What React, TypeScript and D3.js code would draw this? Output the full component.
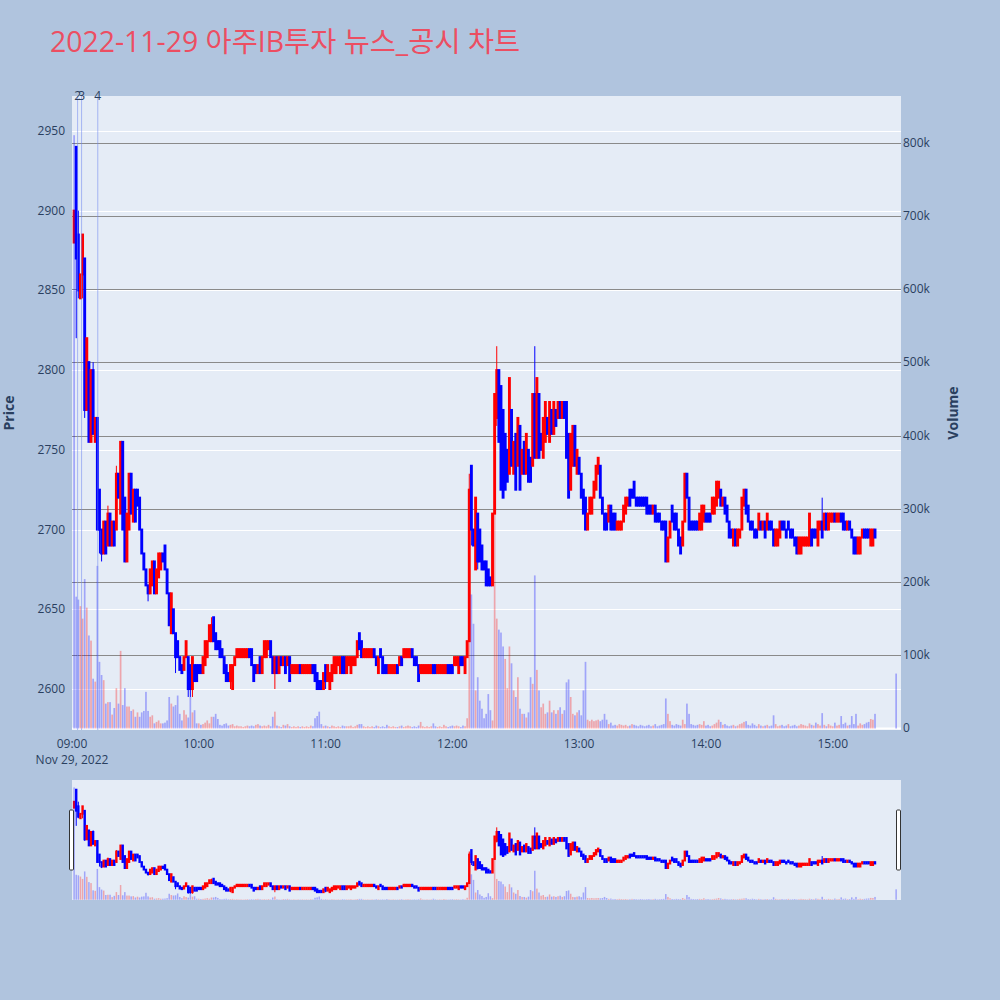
import { useRef, useEffect } from "react";
import * as d3 from "d3";

// 1-minute candles, 09:01 .. 15:20, then the 15:30 closing auction
const opens = [
  2880, 2940, 2885, 2845, 2860, 2870, 2775, 2805, 2755, 2800,
  2755, 2770, 2725, 2700, 2685, 2705, 2690, 2710, 2690, 2705,
  2700, 2735, 2710, 2755, 2720, 2680, 2700, 2735, 2705, 2725,
  2725, 2720, 2700, 2685, 2675, 2665, 2660, 2665, 2680, 2660,
  2670, 2675, 2685, 2690, 2675, 2660, 2635, 2650, 2635, 2630,
  2620, 2615, 2612, 2620, 2620, 2615, 2600, 2615, 2615, 2615,
  2615, 2610, 2615, 2620, 2630, 2630, 2645, 2635, 2630, 2630,
  2625, 2620, 2615, 2610, 2605, 2600, 2615, 2620, 2620, 2620,
  2620, 2620, 2620, 2625, 2625, 2615, 2615, 2610, 2620, 2610,
  2620, 2620, 2625, 2630, 2620, 2610, 2620, 2610, 2620, 2615,
  2620, 2615, 2620, 2610, 2610, 2610, 2610, 2615, 2610, 2610,
  2610, 2610, 2610, 2615, 2615, 2610, 2605, 2605, 2600, 2615,
  2605, 2600, 2605, 2610, 2610, 2615, 2610, 2620, 2620, 2610,
  2615, 2610, 2615, 2615, 2620, 2635, 2630, 2620, 2620, 2620,
  2620, 2620, 2625, 2620, 2610, 2625, 2620, 2615, 2615, 2610,
  2610, 2610, 2610, 2615, 2615, 2620, 2620, 2620, 2620, 2620,
  2625, 2620, 2620, 2615, 2610, 2610, 2610, 2610, 2610, 2610,
  2615, 2615, 2610, 2610, 2610, 2610, 2610, 2615, 2615, 2615,
  2615, 2615, 2610, 2620, 2620, 2610, 2620, 2630, 2740, 2700,
  2675, 2710, 2700, 2690, 2680, 2680, 2675, 2670, 2665, 2710,
  2770, 2800, 2790, 2775, 2760, 2750, 2735, 2775, 2735, 2760,
  2740, 2765, 2735, 2755, 2735, 2750, 2745, 2740, 2785, 2745,
  2785, 2760, 2745, 2755, 2770, 2755, 2775, 2760, 2775, 2770,
  2780, 2770, 2780, 2780, 2760, 2725, 2740, 2765, 2735, 2745,
  2735, 2725, 2720, 2700, 2710, 2710, 2720, 2725, 2735, 2740,
  2720, 2710, 2710, 2705, 2715, 2710, 2710, 2700, 2700, 2700,
  2705, 2710, 2715, 2725, 2725, 2730, 2720, 2720, 2720, 2720,
  2720, 2720, 2715, 2715, 2710, 2715, 2710, 2710, 2705, 2705,
  2705, 2680, 2695, 2715, 2710, 2710, 2700, 2695, 2690, 2705,
  2735, 2720, 2705, 2705, 2705, 2705, 2700, 2700, 2705, 2710,
  2710, 2710, 2710, 2710, 2715, 2720, 2725, 2715, 2720, 2715,
  2705, 2700, 2690, 2700, 2690, 2695, 2700, 2715, 2725, 2715,
  2705, 2705, 2700, 2700, 2700, 2705, 2700, 2705, 2700, 2705,
  2705, 2700, 2690, 2690, 2695, 2705, 2705, 2700, 2705, 2700,
  2700, 2695, 2695, 2685, 2685, 2690, 2690, 2690, 2690, 2700,
  2700, 2700, 2690, 2700, 2705, 2700, 2710, 2700, 2705, 2705,
  2710, 2705, 2705, 2710, 2710, 2705, 2700, 2705, 2700, 2695,
  2695, 2685, 2685, 2695, 2700, 2700, 2700, 2690, 2690, 2700,
  2695,
];

const closes = [
  2900, 2870, 2850, 2860, 2885, 2775, 2820, 2755, 2800, 2760,
  2770, 2700, 2700, 2685, 2705, 2685, 2710, 2690, 2705, 2690,
  2735, 2720, 2755, 2700, 2680, 2710, 2735, 2710, 2725, 2705,
  2715, 2700, 2685, 2675, 2665, 2660, 2675, 2680, 2660, 2675,
  2685, 2685, 2680, 2675, 2660, 2640, 2660, 2635, 2620, 2620,
  2612, 2610, 2620, 2630, 2600, 2600, 2620, 2605, 2605, 2610,
  2610, 2620, 2630, 2630, 2640, 2640, 2630, 2625, 2625, 2620,
  2620, 2610, 2605, 2605, 2615, 2615, 2620, 2625, 2625, 2625,
  2625, 2625, 2625, 2620, 2615, 2605, 2610, 2615, 2610, 2620,
  2630, 2630, 2630, 2620, 2610, 2620, 2610, 2620, 2615, 2620,
  2610, 2620, 2605, 2615, 2615, 2615, 2615, 2610, 2615, 2615,
  2615, 2615, 2615, 2610, 2605, 2600, 2600, 2600, 2610, 2605,
  2615, 2610, 2615, 2620, 2620, 2620, 2620, 2610, 2610, 2620,
  2620, 2620, 2620, 2620, 2630, 2625, 2620, 2625, 2625, 2625,
  2625, 2625, 2620, 2615, 2620, 2620, 2610, 2610, 2610, 2615,
  2615, 2615, 2615, 2610, 2620, 2615, 2625, 2625, 2625, 2625,
  2620, 2615, 2615, 2605, 2615, 2615, 2615, 2615, 2615, 2615,
  2610, 2610, 2615, 2615, 2615, 2615, 2615, 2610, 2610, 2610,
  2620, 2620, 2620, 2615, 2615, 2620, 2630, 2725, 2700, 2690,
  2720, 2680, 2680, 2675, 2675, 2665, 2665, 2665, 2710, 2785,
  2800, 2755, 2725, 2720, 2725, 2730, 2795, 2740, 2755, 2725,
  2770, 2725, 2750, 2735, 2760, 2730, 2730, 2785, 2745, 2795,
  2745, 2750, 2770, 2780, 2760, 2780, 2760, 2780, 2765, 2780,
  2770, 2780, 2770, 2745, 2720, 2760, 2765, 2740, 2750, 2735,
  2720, 2710, 2700, 2710, 2720, 2720, 2730, 2740, 2745, 2720,
  2710, 2700, 2700, 2715, 2700, 2700, 2700, 2705, 2705, 2705,
  2715, 2720, 2720, 2715, 2720, 2720, 2715, 2715, 2715, 2715,
  2715, 2710, 2710, 2710, 2715, 2705, 2705, 2705, 2700, 2700,
  2680, 2695, 2705, 2705, 2700, 2700, 2690, 2685, 2705, 2735,
  2720, 2700, 2700, 2700, 2700, 2700, 2710, 2715, 2715, 2705,
  2705, 2705, 2720, 2720, 2730, 2730, 2715, 2720, 2710, 2705,
  2695, 2695, 2700, 2690, 2700, 2700, 2720, 2725, 2710, 2705,
  2700, 2700, 2695, 2695, 2710, 2700, 2705, 2695, 2710, 2700,
  2700, 2690, 2700, 2700, 2705, 2700, 2700, 2695, 2700, 2695,
  2695, 2690, 2685, 2695, 2695, 2695, 2695, 2695, 2710, 2690,
  2695, 2695, 2705, 2705, 2695, 2710, 2700, 2710, 2710, 2710,
  2705, 2710, 2710, 2705, 2700, 2700, 2705, 2700, 2695, 2685,
  2685, 2695, 2695, 2700, 2695, 2695, 2695, 2700, 2700, 2695,
  2695,
];

// candles whose high/low reach past the body: index -> [high, low]
const wicks: Record<number, [number, number]> = {
  1: [2940, 2820], 2: [2900, 2845], 4: [2885, 2845], 5: [2870, 2770],
  9: [2805, 2760], 12: [2725, 2685], 13: [2700, 2680], 16: [2715, 2690],
  20: [2740, 2700], 35: [2665, 2655], 48: [2635, 2610], 54: [2620, 2595],
  55: [2615, 2595], 56: [2620, 2595], 65: [2645, 2630], 66: [2645, 2630],
  74: [2615, 2600], 95: [2620, 2600], 119: [2615, 2600], 121: [2610, 2600],
  135: [2635, 2625], 187: [2735, 2630], 188: [2740, 2690], 190: [2720, 2675],
  191: [2710, 2675], 200: [2815, 2765], 218: [2815, 2745], 354: [2720, 2695],
};

// volume, thousands of shares
const volumesK = [
  810, 180, 176, 167, 150, 204, 165, 127, 120, 68,
  64, 222, 91, 73, 66, 34, 36, 36, 19, 28,
  55, 34, 106, 32, 55, 30, 30, 24, 26, 16,
  22, 16, 22, 24, 50, 24, 16, 18, 7, 9,
  11, 7, 7, 8, 11, 43, 34, 30, 32, 45,
  20, 11, 25, 19, 15, 43, 22, 25, 7, 7,
  5, 6, 8, 11, 7, 16, 16, 20, 13, 5,
  4, 6, 7, 4, 5, 6, 3, 4, 3, 3,
  2, 3, 4, 3, 4, 3, 5, 6, 4, 3,
  4, 3, 5, 3, 16, 23, 4, 3, 2, 5,
  4, 6, 3, 2, 3, 2, 3, 2, 3, 2,
  3, 2, 4, 3, 14, 17, 23, 6, 3, 4,
  3, 2, 4, 3, 2, 3, 2, 4, 3, 3,
  3, 4, 2, 3, 5, 6, 6, 3, 2, 3,
  2, 3, 2, 4, 3, 2, 3, 2, 5, 3,
  2, 3, 2, 2, 3, 4, 2, 3, 4, 3,
  2, 3, 2, 4, 9, 3, 2, 3, 2, 3,
  7, 3, 2, 3, 2, 5, 3, 2, 3, 4,
  3, 4, 3, 2, 4, 3, 14, 190, 183, 143,
  52, 70, 38, 27, 14, 20, 47, 25, 11, 310,
  150, 135, 131, 112, 95, 55, 112, 89, 52, 43,
  70, 27, 20, 20, 15, 22, 70, 61, 209, 80,
  52, 29, 34, 20, 22, 38, 22, 25, 20, 25,
  29, 20, 25, 63, 67, 43, 20, 18, 22, 25,
  18, 52, 91, 12, 10, 12, 10, 11, 12, 10,
  12, 20, 12, 6, 8, 4, 5, 4, 6, 5,
  4, 5, 3, 4, 6, 5, 4, 3, 5, 4,
  3, 4, 5, 3, 4, 6, 3, 4, 5, 6,
  41, 20, 10, 5, 4, 6, 5, 4, 12, 6,
  34, 20, 6, 5, 4, 5, 6, 5, 10, 4,
  5, 3, 4, 6, 8, 12, 9, 5, 6, 4,
  3, 4, 5, 3, 4, 6, 7, 9, 10, 5,
  4, 7, 5, 3, 6, 4, 3, 4, 5, 3,
  4, 18, 6, 3, 4, 5, 3, 4, 6, 3,
  4, 5, 3, 4, 6, 5, 4, 3, 7, 5,
  4, 8, 6, 4, 21, 5, 3, 6, 4, 3,
  8, 4, 5, 17, 6, 8, 4, 5, 17, 6,
  20, 4, 7, 5, 6, 8, 9, 13, 12, 20,
  75,
];

// news / disclosure markers
const newsLabels = ["2", "3", "4"];
const newsTimes = ["09:02:39", "09:04:32", "09:12:12"];

const priceTicks = [2600, 2650, 2700, 2750, 2800, 2850, 2900, 2950];
const volumeTicks = [0, 100000, 200000, 300000, 400000, 500000, 600000, 700000, 800000];
const hourTicks = ["09:00", "10:00", "11:00", "12:00", "13:00", "14:00", "15:00"];

const TITLE = "2022-11-29 아주IB투자 뉴스_공시 차트";
const FONT = '"Open Sans", "Noto Sans CJK KR", verdana, arial, sans-serif';
const INK = "#2a3f5f";
const UP = "#ff0000";
const DOWN = "#0000ff";

const plot = { left: 72, right: 901, top: 96, bottom: 730 };
const slider = { top: 780, bottom: 900 };

const day = new Date(2022, 10, 29, 9, 0, 0);
const atMinute = (m: number) => new Date(day.getTime() + m * 60000);
const parseClock = (s: string) => {
  const [h, mi, se] = s.split(":").map(Number);
  return new Date(2022, 10, 29, h, mi, se || 0);
};
// candle i is stamped 09:(i+1); the last one is the 15:30 close
const stamps = opens.map((_, i) => (i < opens.length - 1 ? atMinute(i + 1) : parseClock("15:30")));

type Candle = { t: Date; o: number; h: number; l: number; c: number; v: number; up: boolean; volUp: boolean };

const candles: Candle[] = opens.map((o, i) => {
  const c = closes[i];
  const w = wicks[i];
  const h = w ? w[0] : Math.max(o, c);
  const l = w ? w[1] : Math.min(o, c);
  const prev = i > 0 ? closes[i - 1] : undefined;
  const volUp = prev === undefined ? false : c === prev ? c > o : c > prev;
  return { t: stamps[i], o, h, l, c, v: volumesK[i] * 1000, up: c > o, volUp };
});

const App = () => {
  const ref = useRef<SVGSVGElement>(null);

  useEffect(() => {
    if (!ref.current) return;
    const svg = d3.select(ref.current);
    svg.selectAll("*").remove();

    const x = d3
      .scaleTime()
      .domain([day, atMinute(392.3)])
      .range([plot.left, plot.right]);
    const yPrice = d3.scaleLinear().domain([2574.3, 2971.9]).range([plot.bottom, plot.top]);
    const yVol = d3.scaleLinear().domain([-2050, 863500]).range([plot.bottom, plot.top]);
    const yPriceS = d3.scaleLinear().domain([2574.3, 2971.9]).range([slider.bottom, slider.top]);
    const yVolS = d3.scaleLinear().domain([-2050, 863500]).range([slider.bottom, slider.top]);

    svg.append("rect").attr("width", 1000).attr("height", 1000).attr("fill", "#b0c4de");

    // title
    svg
      .append("text")
      .attr("x", 50)
      .attr("y", 52)
      .attr("font-family", FONT)
      .attr("font-size", 28.4)
      .attr("fill", "#ec4e62")
      .text(TITLE);

    // main plot background + grids
    svg
      .append("rect")
      .attr("x", plot.left)
      .attr("y", plot.top)
      .attr("width", plot.right - plot.left)
      .attr("height", plot.bottom - plot.top)
      .attr("fill", "#e5ecf6");

    const grid = svg.append("g");
    grid
      .selectAll("line.p")
      .data(priceTicks)
      .join("line")
      .attr("x1", plot.left)
      .attr("x2", plot.right)
      .attr("y1", (d) => Math.round(yPrice(d)) + 0.5)
      .attr("y2", (d) => Math.round(yPrice(d)) + 0.5)
      .attr("stroke", "#ffffff")
      .attr("stroke-width", 1);
    grid
      .selectAll("line.v")
      .data(volumeTicks)
      .join("line")
      .attr("x1", plot.left)
      .attr("x2", plot.right)
      .attr("y1", (d) => Math.round(yVol(d)) + 0.5)
      .attr("y2", (d) => Math.round(yVol(d)) + 0.5)
      .attr("stroke", (d) => (d === 0 ? "#ffffff" : "#8a8a8a"))
      .attr("stroke-width", (d) => (d === 0 ? 2 : 1));

    const drawCandles = (
      g: d3.Selection<SVGGElement, unknown, null, undefined>,
      yp: d3.ScaleLinear<number, number>,
      bodyW: number,
      lineW: number,
      wickW: number
    ) => {
      g.selectAll("line")
        .data(candles)
        .join("line")
        .attr("x1", (d) => x(d.t))
        .attr("x2", (d) => x(d.t))
        .attr("y1", (d) => yp(d.h))
        .attr("y2", (d) => yp(d.l))
        .attr("stroke", (d) => (d.up ? UP : DOWN))
        .attr("stroke-width", wickW);
      g.selectAll("rect")
        .data(candles)
        .join("rect")
        .attr("x", (d) => x(d.t) - bodyW / 2)
        .attr("width", bodyW)
        .attr("y", (d) => yp(Math.max(d.o, d.c)))
        .attr("height", (d) => Math.abs(yp(d.o) - yp(d.c)))
        .attr("fill", (d) => (d.up ? UP : DOWN))
        .attr("stroke", (d) => (d.up ? UP : DOWN))
        .attr("stroke-width", lineW);
    };

    const drawBars = (
      g: d3.Selection<SVGGElement, unknown, null, undefined>,
      yv: d3.ScaleLinear<number, number>,
      barW: number
    ) => {
      g.selectAll("rect")
        .data(candles)
        .join("rect")
        .attr("x", (d) => x(d.t) - barW / 2)
        .attr("width", barW)
        .attr("y", (d) => yv(d.v))
        .attr("height", (d) => yv(0) - yv(d.v))
        .attr("fill", (d) => (d.volUp ? UP : DOWN))
        .attr("fill-opacity", 0.3);
    };

    drawCandles(svg.append("g"), yPrice, 0.9, 2, 1);
    drawBars(svg.append("g"), yVol, 1.7);

    // news markers
    const news = svg.append("g");
    newsTimes.forEach((s, i) => {
      const nx = x(parseClock(s));
      news
        .append("line")
        .attr("x1", nx)
        .attr("x2", nx)
        .attr("y1", plot.top)
        .attr("y2", plot.bottom)
        .attr("stroke", "#6f86f0")
        .attr("stroke-opacity", 0.55)
        .attr("stroke-width", 1);
      news
        .append("text")
        .attr("x", nx)
        .attr("y", plot.top + 4)
        .attr("text-anchor", "middle")
        .attr("font-family", FONT)
        .attr("font-size", 12)
        .attr("fill", INK)
        .text(newsLabels[i]);
    });

    // left price axis labels
    svg
      .append("g")
      .selectAll("text")
      .data(priceTicks)
      .join("text")
      .attr("x", 65)
      .attr("y", (d) => yPrice(d) + 4)
      .attr("text-anchor", "end")
      .attr("font-family", FONT)
      .attr("font-size", 12)
      .attr("fill", INK)
      .text((d) => String(d));

    // right volume axis labels
    svg
      .append("g")
      .selectAll("text")
      .data(volumeTicks)
      .join("text")
      .attr("x", 903)
      .attr("y", (d) => yVol(d) + 4)
      .attr("text-anchor", "start")
      .attr("font-family", FONT)
      .attr("font-size", 12)
      .attr("fill", INK)
      .text((d) => (d === 0 ? "0" : `${d / 1000}k`));

    // time axis labels
    svg
      .append("g")
      .selectAll("text")
      .data(hourTicks)
      .join("text")
      .attr("x", (d) => x(parseClock(d)))
      .attr("y", 748)
      .attr("text-anchor", "middle")
      .attr("font-family", FONT)
      .attr("font-size", 12)
      .attr("fill", INK)
      .text((d) => d);
    svg
      .append("text")
      .attr("x", x(parseClock(hourTicks[0])))
      .attr("y", 764)
      .attr("text-anchor", "middle")
      .attr("font-family", FONT)
      .attr("font-size", 12)
      .attr("fill", INK)
      .text("Nov 29, 2022");

    // axis titles
    const mid = (plot.top + plot.bottom) / 2;
    svg
      .append("text")
      .attr("transform", `translate(14,${mid}) rotate(-90)`)
      .attr("text-anchor", "middle")
      .attr("font-family", FONT)
      .attr("font-size", 14)
      .attr("font-weight", "bold")
      .attr("fill", INK)
      .text("Price");
    svg
      .append("text")
      .attr("transform", `translate(958,${mid}) rotate(-90)`)
      .attr("text-anchor", "middle")
      .attr("font-family", FONT)
      .attr("font-size", 14)
      .attr("font-weight", "bold")
      .attr("fill", INK)
      .text("Volume");

    // range slider
    svg
      .append("rect")
      .attr("x", plot.left)
      .attr("y", slider.top)
      .attr("width", plot.right - plot.left)
      .attr("height", slider.bottom - slider.top)
      .attr("fill", "#e5ecf6");
    drawCandles(svg.append("g"), yPriceS, 0.6, 1.8, 1);
    drawBars(svg.append("g"), yVolS, 1.5);
    [plot.left - 2.5, plot.right - 4.5].forEach((hx) => {
      svg
        .append("rect")
        .attr("x", hx)
        .attr("y", 810)
        .attr("width", 4)
        .attr("height", 60)
        .attr("rx", 1)
        .attr("fill", "#ffffff")
        .attr("stroke", "#333333")
        .attr("stroke-width", 1);
    });
  }, []);

  return (
    <svg
      ref={ref}
      width={1000}
      height={1000}
      style={{ position: "absolute", left: 0, top: 0, display: "block" }}
    />
  );
};

export default App;
